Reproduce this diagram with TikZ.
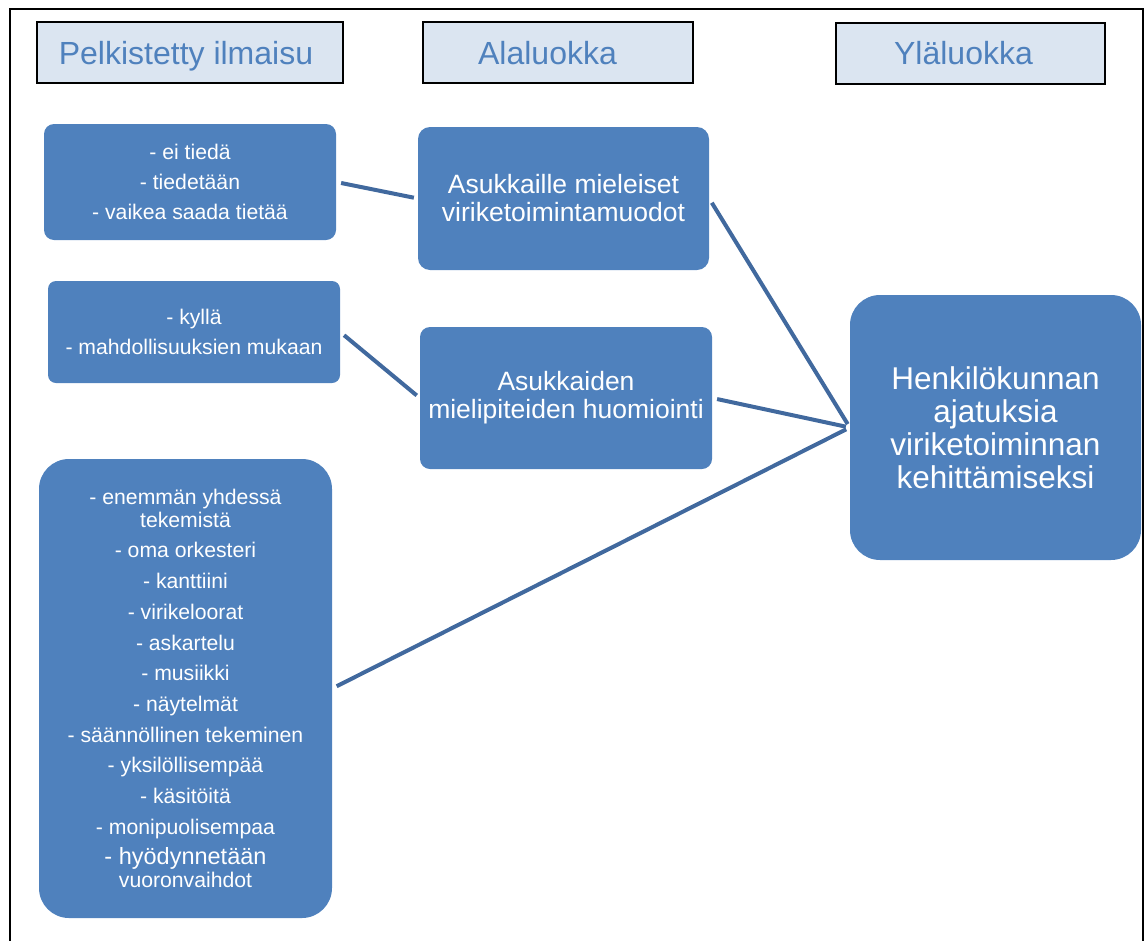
\documentclass[tikz,border=0pt]{standalone}
\usepackage{fontspec}
\setmainfont{Liberation Sans}
\definecolor{boxblue}{HTML}{4F81BD}
\definecolor{headfill}{HTML}{DBE5F1}
\definecolor{linkblue}{HTML}{41699E}
\tikzset{
  header/.style={draw=black, line width=2pt, fill=headfill, minimum height=61pt, inner sep=0pt},
  headtext/.style={text=boxblue, font=\fontsize{32}{36}\selectfont, inner sep=0pt,
    text height=23pt, text depth=0pt},
  item/.style={fill=boxblue, text=white, align=center, inner sep=0pt},
  small/.style={item, font=\fontsize{21.2}{23}\selectfont},
  mid/.style={item, font=\fontsize{26.5}{28}\selectfont},
  big/.style={item, font=\fontsize{31.5}{33}\selectfont},
  link/.style={draw=linkblue, line width=4pt, shorten <=5pt, shorten >=4pt}
}
\begin{document}
\begin{tikzpicture}[x=1pt, y=-1pt]
\useasboundingbox (0,0) rectangle (1146,940);
% outer frame, open at the bottom edge
\draw[line width=2pt, black] (10,945) -- (10,9) -- (1143,9) -- (1143,945);

% column headings
\node[header, minimum width=306pt] (h1) at (190,52.5) {};
\node[header, minimum width=270pt] (h2) at (557.5,52.5) {};
\node[header, minimum width=269pt] (h3) at (970.5,53) {};
\node[headtext] (h1t) at ([xshift=-4pt]h1.center) {Pelkistetty ilmaisu};
\node[headtext] (h2t) at ([xshift=-10pt]h2.center) {Alaluokka};
\node[headtext] (h3t) at ([xshift=-7pt]h3.center) {Yläluokka};

% simplified expressions
\node[small, rounded corners=10pt, minimum width=292pt, minimum height=116pt] (a) at (190,182)
  {- ei tiedä\\[7pt]- tiedetään\\[7pt]- vaikea saada tietää};
\node[small, rounded corners=8pt, minimum width=292pt, minimum height=102pt] (b) at (194,332)
  {- kyllä\\[7pt]- mahdollisuuksien mukaan};
\node[small, rounded corners=30pt, minimum width=293pt, minimum height=459pt] (c) at (185.5,688.5)
  {- enemmän yhdessä\\tekemistä\\[7.7pt]- oma orkesteri\\[7.7pt]- kanttiini\\[7.7pt]- virikeloorat\\[7.7pt]- askartelu\\[7.7pt]- musiikki\\[7.7pt]- näytelmät\\[7.7pt]- säännöllinen tekeminen\\[7.7pt]- yksilöllisempää\\[7.7pt]- käsitöitä\\[7.7pt]- monipuolisempaa\\[7.7pt]{\fontsize{23.5}{24}\selectfont - hyödynnetään}\\vuoronvaihdot};

% subcategories
\node[mid, rounded corners=12pt, minimum width=291pt, minimum height=143pt] (d) at (563.5,198.5)
  {Asukkaille mieleiset\\viriketoimintamuodot};
\node[mid, rounded corners=10pt, minimum width=292pt, minimum height=142pt] (e) at (566,398)
  {Asukkaiden\\mielipiteiden huomiointi};

% main category
\node[big, rounded corners=30pt, minimum width=291pt, minimum height=265pt] (f) at (995.5,427.5)
  {Henkilökunnan\\ajatuksia\\viriketoiminnan\\kehittämiseksi};

% connectors
\draw[link] (a.east) -- (d.west);
\draw[link] (b.east) -- (e.west);
\draw[link] (c.east) -- (f.west);
\draw[link] (d.east) -- (f.west);
\draw[link] (e.east) -- (f.west);
\end{tikzpicture}
\end{document}
